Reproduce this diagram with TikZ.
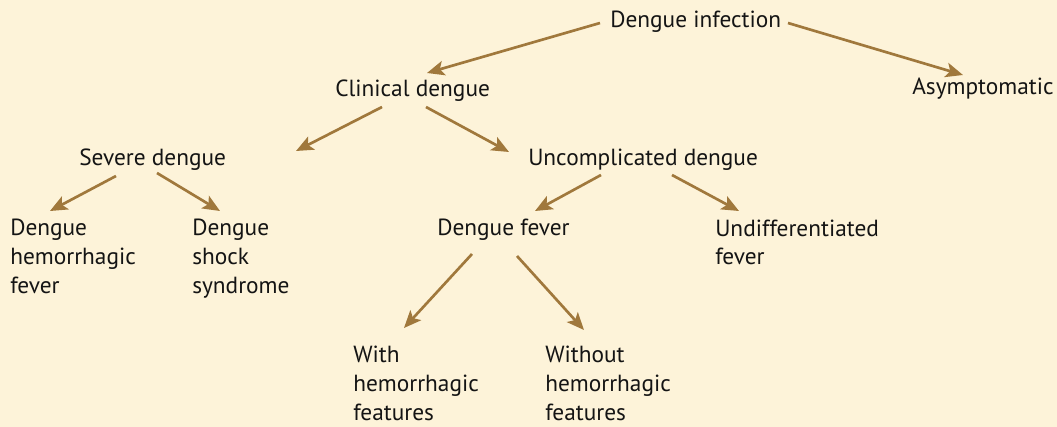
\documentclass[tikz,border=0pt]{standalone}
\usepackage{fontspec}
\setmainfont{PT Sans}
\usetikzlibrary{arrows.meta}
\definecolor{cbg}{RGB}{253,243,217}
\definecolor{carrow}{RGB}{160,120,60}

\begin{document}
\begin{tikzpicture}[
    x=0.75pt, y=-0.75pt,
    term/.style={anchor=base west, inner sep=0pt, align=left,
        font=\fontsize{17.5}{21.5}\selectfont, text=black!92},
    arr/.style={-{Stealth[length=13pt, width=11pt, inset=3pt]},
        line width=2pt, draw=carrow}
]
%% Background and fixed margins
\fill[cbg] (0,0) rectangle (1057,427);
\useasboundingbox (0,0) rectangle (1057,427);

%% Terms, top to bottom (multi-line terms sit on their last baseline)
\node[term] (inf)     at (610,28)    {Dengue infection};
\node[term] (clin)    at (335,97)    {Clinical dengue};
\node[term] (asym)    at (912,95)    {Asymptomatic};
\node[term] (sev)     at (79,166)    {Severe dengue};
\node[term] (unc)     at (528,166)   {Uncomplicated dengue};
\node[term] (dhf)     at (10,293.3)  {Dengue\\hemorrhagic\\fever};
\node[term] (dss)     at (192,293.3) {Dengue\\shock\\syndrome};
\node[term] (df)      at (437,236)   {Dengue fever};
\node[term] (und)     at (715,264.7) {Undifferentiated\\fever};
\node[term] (with)    at (353,420.3) {With\\hemorrhagic\\features};
\node[term] (without) at (545,420.3) {Without\\hemorrhagic\\features};

%% Arrows
\draw[arr] ([shift={(-10,-5)}]inf.base west)  -- ([shift={(92,-24)}]clin.base west);
\draw[arr] ([shift={(178,-5)}]inf.base west)  -- ([shift={(51,-20)}]asym.base west);
\draw[arr] ([shift={(47,10)}]clin.base west)  -- ([shift={(217,-15)}]sev.base west);
\draw[arr] ([shift={(91,10)}]clin.base west)  -- ([shift={(-19,-14)}]unc.base west);
\draw[arr] ([shift={(37,10)}]sev.base west)   -- ([shift={(40,-82.3)}]dhf.base west);
\draw[arr] ([shift={(78,7)}]sev.base west)    -- ([shift={(28,-82.3)}]dss.base west);
\draw[arr] ([shift={(73,9)}]unc.base west)    -- ([shift={(98,-25)}]df.base west);
\draw[arr] ([shift={(144,9)}]unc.base west)   -- ([shift={(24,-53.7)}]und.base west);
\draw[arr] ([shift={(35,18)}]df.base west)    -- ([shift={(51,-92.3)}]with.base west);
\draw[arr] ([shift={(80,20)}]df.base west)    -- ([shift={(39,-90.3)}]without.base west);

\end{tikzpicture}
\end{document}
